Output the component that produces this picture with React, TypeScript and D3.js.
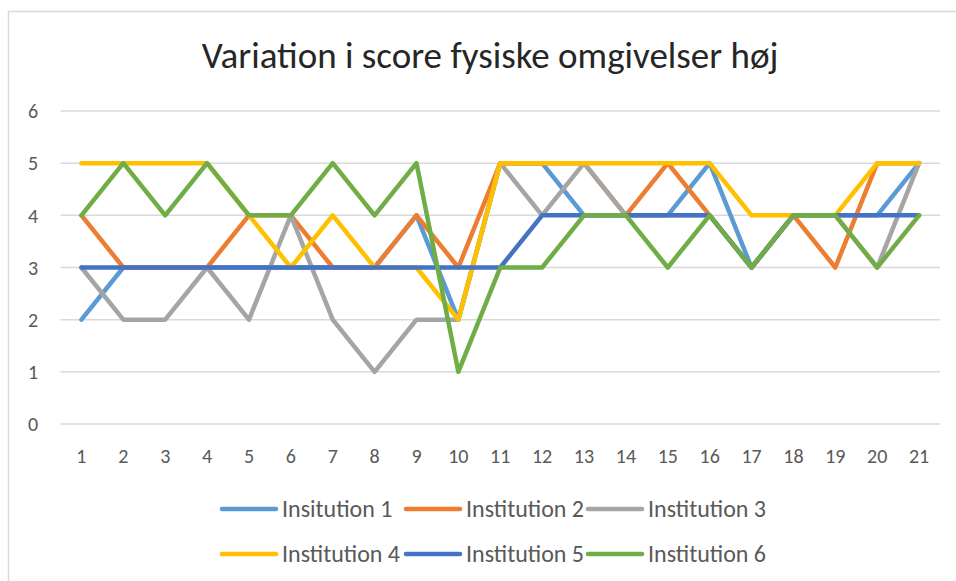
import React from "react";
import * as d3 from "d3";

const categories = ["1","2","3","4","5","6","7","8","9","10","11","12","13","14","15","16","17","18","19","20","21"];
const seriesNames = ["Insitution 1","Institution 2","Institution 3","Institution 4","Institution 5","Institution 6"];
const inst1 = [2,3,3,3,3,3,3,3,4,2,5,5,4,4,4,5,3,4,4,4,5];
const inst2 = [4,3,3,3,4,4,3,3,4,3,5,5,5,4,5,4,3,4,3,5,5];
const inst3 = [3,2,2,3,2,4,2,1,2,2,5,4,5,4,4,4,3,4,4,3,5];
const inst4 = [5,5,5,5,4,3,4,3,3,2,5,5,5,5,5,5,4,4,4,5,5];
const inst5 = [3,3,3,3,3,3,3,3,3,3,3,4,4,4,4,4,3,4,4,4,4];
const inst6 = [4,5,4,5,4,4,5,4,5,1,3,3,4,4,3,4,3,4,4,3,4];
const yTicks = [0,1,2,3,4,5,6];
const colors = ["#5B9BD5","#ED7D31","#A5A5A5","#FFC000","#4472C4","#70AD47"];
const title = "Variation i score fysiske omgivelser høj";

const allSeries = [inst1, inst2, inst3, inst4, inst5, inst6];

export default function App() {
  const W = 956, H = 581;
  const font = "Carlito, Calibri, Lato, 'Open Sans', sans-serif";
  const x = d3.scaleBand<string>().domain(categories).range([60.5, 940]);
  const y = d3.scaleLinear().domain([0, 6]).range([424, 111]);
  const line = d3.line<number>()
    .x((_, i) => (x(categories[i]) as number) + x.bandwidth() / 2)
    .y((v) => y(v));

  const legendCols = [222, 406, 588];
  const legendRows = [509, 554];

  return (
    <svg width={W} height={H} style={{ position: "absolute", left: 0, top: 0, background: "#fff" }} fontFamily={font}>
      <rect x={0} y={0} width={W} height={H} fill="#fff" />
      <rect x={8.5} y={11.5} width={W + 20} height={H + 20} fill="#fff" stroke="#d9d9d9" strokeWidth={1.5} />
      <text x={490} y={68} textAnchor="middle" fontSize={37} fill="#262626">{title}</text>
      {yTicks.map((t) => (
        <g key={t}>
          <line x1={60.5} x2={940} y1={y(t)} y2={y(t)} stroke="#d9d9d9" strokeWidth={1.5} />
          <text x={33} y={y(t)} dy="0.36em" textAnchor="middle" fontSize={20} fill="#595959">{t}</text>
        </g>
      ))}
      {categories.map((c) => (
        <text key={c} x={(x(c) as number) + x.bandwidth() / 2} y={463} textAnchor="middle" fontSize={20} fill="#595959">{c}</text>
      ))}
      {allSeries.map((s, k) => (
        <path key={k} d={line(s) || ""} fill="none" stroke={colors[k]} strokeWidth={4.5} strokeLinejoin="round" strokeLinecap="round" />
      ))}
      {seriesNames.map((n, k) => {
        const cx = legendCols[k % 3];
        const cy = legendRows[Math.floor(k / 3)];
        return (
          <g key={n}>
            <line x1={cx} x2={cx + 54} y1={cy} y2={cy} stroke={colors[k]} strokeWidth={4.5} strokeLinecap="round" />
            <text x={cx + 60} y={cy} dy="0.35em" fontSize={24} fill="#595959">{n}</text>
          </g>
        );
      })}
    </svg>
  );
}
